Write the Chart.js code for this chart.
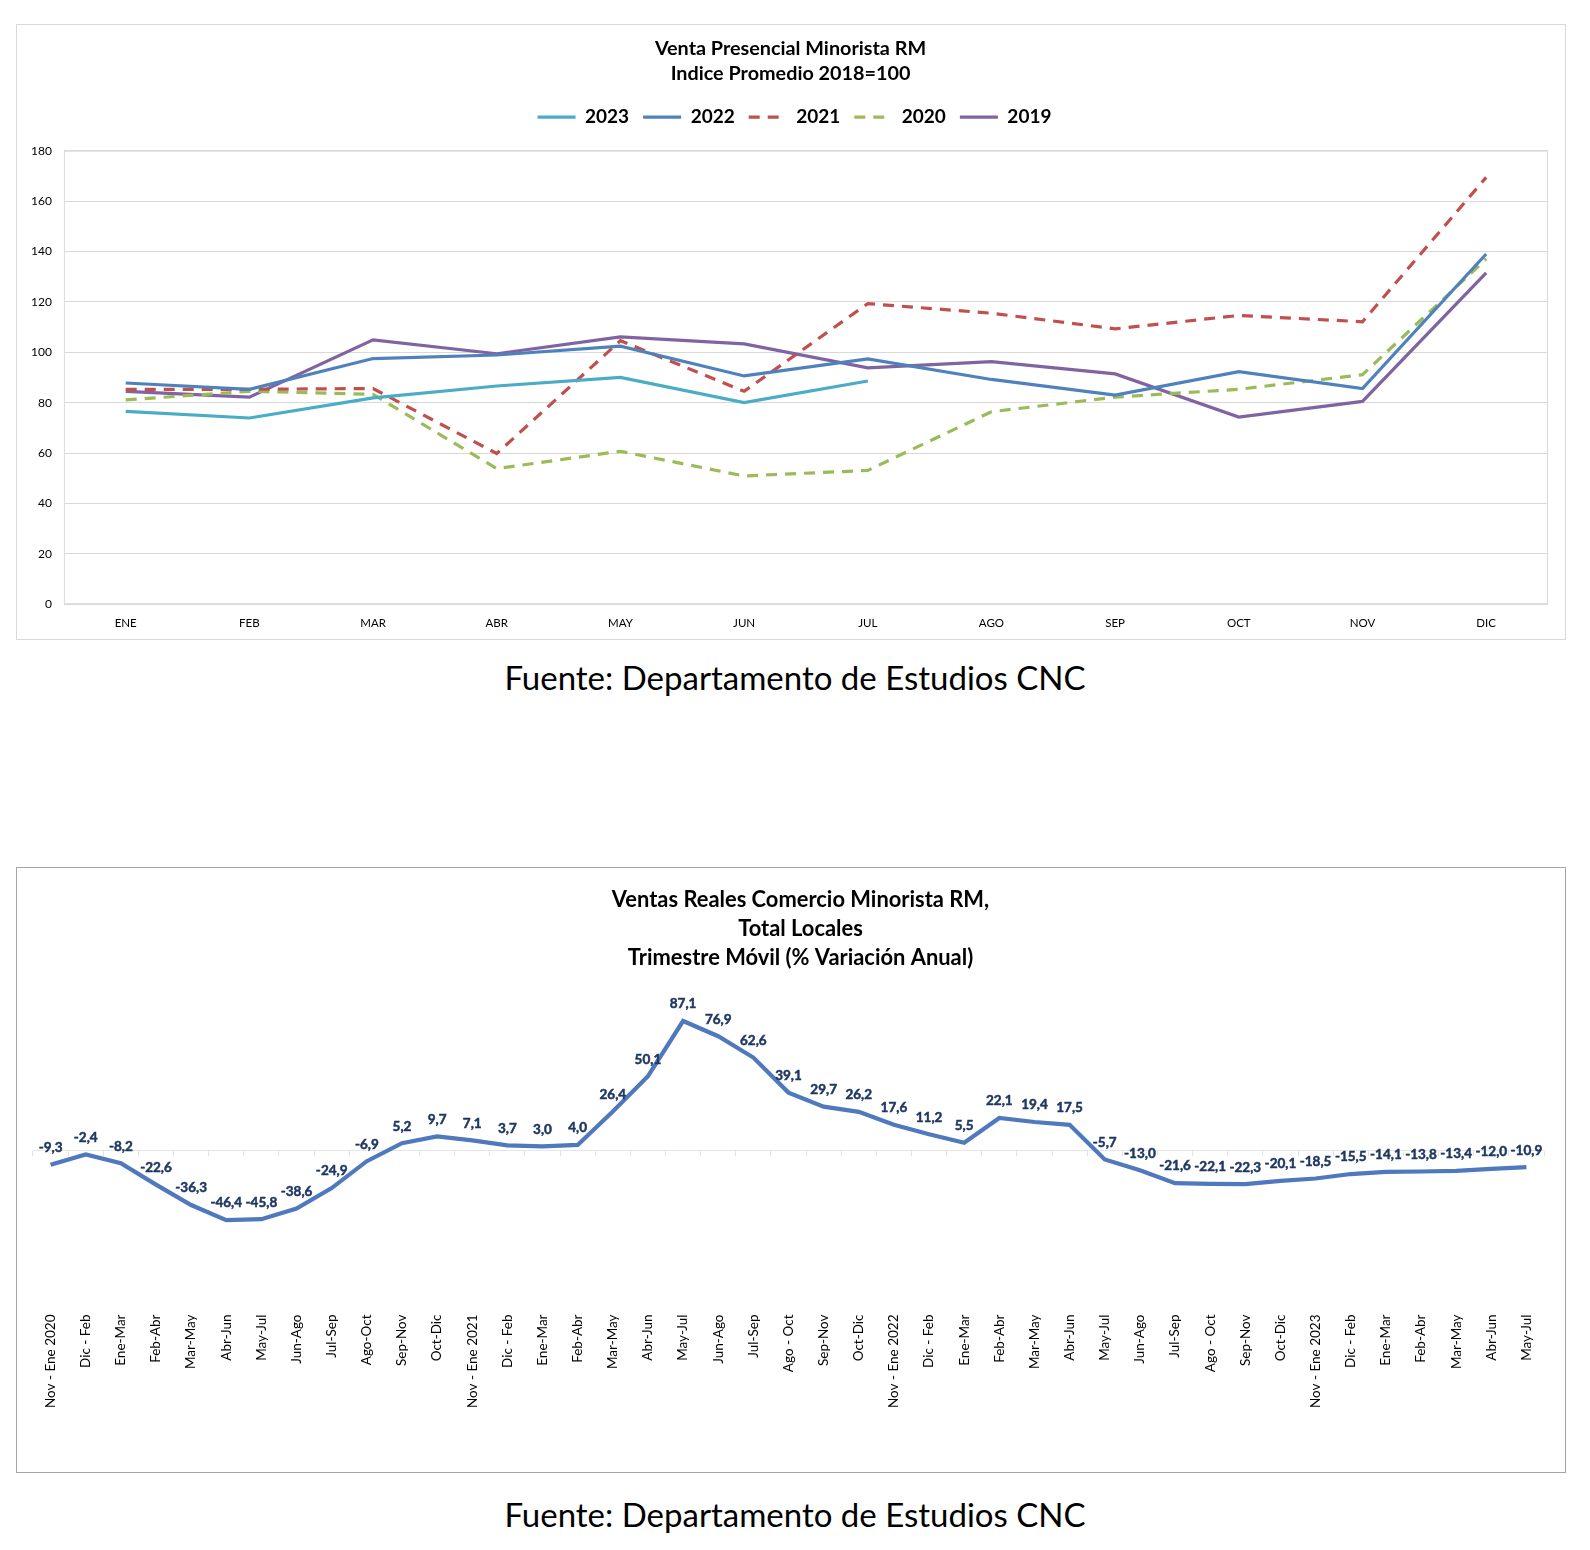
<!DOCTYPE html>
<html lang="es">
<head>
<meta charset="utf-8">
<title>Venta Presencial Minorista RM</title>
<script src="https://cdn.jsdelivr.net/npm/chart.js@4.4.1/dist/chart.umd.min.js"></script>
<style>
  body { margin: 0; background: #fff; width: 1590px; height: 1550px; position: relative; font-family: Lato, sans-serif; }
  .box { position: absolute; box-sizing: border-box; border: 1px solid #d9d9d9; background: #fff; }
  #box-top { left: 16px; top: 24px; width: 1550px; height: 616px; }
  #box-bottom { left: 16px; top: 867px; width: 1550px; height: 606px; border-color: #a6a6a6; }
  .fuente { position: absolute; left: 0; width: 1590px; text-align: center; font-size: 33px; line-height: 40px; color: #000; }
</style>
</head>
<body>
<div class="box" id="box-top"><canvas id="chart-top"></canvas></div>
<div class="fuente" style="top:657px">Fuente: Departamento de Estudios CNC</div>
<div class="box" id="box-bottom"><canvas id="chart-bottom"></canvas></div>
<div class="fuente" style="top:1494px">Fuente: Departamento de Estudios CNC</div>

<script>
// top chart: monthly index
const months = ['ENE', 'FEB', 'MAR', 'ABR', 'MAY', 'JUN', 'JUL', 'AGO', 'SEP', 'OCT', 'NOV', 'DIC'];
const v2023 = [76.5, 73.9, 81.9, 86.6, 90.0, 80.0, 88.6, null, null, null, null, null];
const v2022 = [87.8, 85.3, 97.5, 98.9, 102.4, 90.6, 97.4, 89.2, 83.0, 92.3, 85.6, 139.0];
const v2021 = [85.3, 85.3, 85.6, 59.8, 104.6, 84.5, 119.3, 115.5, 109.3, 114.6, 112.1, 169.4];
const v2020 = [81.1, 84.5, 83.3, 53.8, 60.7, 50.9, 53.1, 76.4, 82.2, 85.3, 91.1, 137.0];
const v2019 = [84.5, 82.2, 104.9, 99.4, 106.1, 103.3, 93.8, 96.3, 91.4, 74.3, 80.5, 131.5];

// bottom chart: moving quarter, % annual variation
const periods = [
  'Nov - Ene 2020', 'Dic - Feb', 'Ene-Mar', 'Feb-Abr', 'Mar-May', 'Abr-Jun', 'May-Jul', 'Jun-Ago', 'Jul-Sep', 'Ago-Oct', 'Sep-Nov', 'Oct-Dic',
  'Nov - Ene 2021', 'Dic - Feb', 'Ene-Mar', 'Feb-Abr', 'Mar-May', 'Abr-Jun', 'May-Jul', 'Jun-Ago', 'Jul-Sep', 'Ago - Oct', 'Sep-Nov', 'Oct-Dic',
  'Nov - Ene 2022', 'Dic - Feb', 'Ene-Mar', 'Feb-Abr', 'Mar-May', 'Abr-Jun', 'May-Jul', 'Jun-Ago', 'Jul-Sep', 'Ago - Oct', 'Sep-Nov', 'Oct-Dic',
  'Nov - Ene 2023', 'Dic - Feb', 'Ene-Mar', 'Feb-Abr', 'Mar-May', 'Abr-Jun', 'May-Jul'
];
const variation = [
  -9.3, -2.4, -8.2, -22.6, -36.3, -46.4, -45.8, -38.6, -24.9, -6.9, 5.2, 9.7,
  7.1, 3.7, 3.0, 4.0, 26.4, 50.1, 87.1, 76.9, 62.6, 39.1, 29.7, 26.2,
  17.6, 11.2, 5.5, 22.1, 19.4, 17.5, -5.7, -13.0, -21.6, -22.1, -22.3, -20.1,
  -18.5, -15.5, -14.1, -13.8, -13.4, -12.0, -10.9
];

// gray frame around the plot area
const plotFrame = {
  id: 'plotFrame',
  beforeDatasetsDraw(chart) {
    const { ctx, chartArea: a } = chart;
    ctx.save();
    ctx.strokeStyle = '#d9d9d9';
    ctx.lineWidth = 1;
    ctx.strokeRect(a.left + 0.5, a.top + 0.5, a.width - 1, a.height - 1);
    ctx.restore();
  }
};

// extra room under the legend
const legendGap = {
  id: 'legendGap',
  beforeInit(chart) {
    const fit = chart.legend.fit;
    chart.legend.fit = function () {
      fit.call(this);
      this.height += 14;
    };
  }
};

// nudge title / legend sideways (Excel doesn't center them exactly)
const headerShift = {
  id: 'headerShift',
  afterLayout(chart, args, opts) {
    const t = chart.titleBlock, l = chart.legend;
    if (t && opts.title) { t.left += opts.title; t.right += opts.title; }
    if (l && opts.legend) { l.left += opts.legend; l.right += opts.legend; }
  }
};

// value labels above each point (decimal comma)
const pointLabels = {
  id: 'pointLabels',
  afterDatasetsDraw(chart) {
    const ctx = chart.ctx;
    const meta = chart.getDatasetMeta(0);
    const data = chart.data.datasets[0].data;
    ctx.save();
    ctx.font = 'bold 13.5px Lato';
    ctx.fillStyle = '#203864';
    ctx.strokeStyle = '#203864';
    ctx.lineWidth = 0.5;
    ctx.textAlign = 'center';
    ctx.textBaseline = 'middle';
    meta.data.forEach((pt, i) => {
      const txt = data[i].toFixed(1).replace('.', ',');
      ctx.fillText(txt, pt.x, pt.y - 17);
      ctx.strokeText(txt, pt.x, pt.y - 17);
    });
    ctx.restore();
  }
};

function initTopChart() {
  const ctx = document.getElementById('chart-top').getContext('2d');
  const dash = [11, 8];
  new Chart(ctx, {
    type: 'line',
    data: {
      labels: months,
      datasets: [
        { label: '2023', data: v2023, borderColor: '#4BACC6', backgroundColor: '#4BACC6' },
        { label: '2022', data: v2022, borderColor: '#4F81BD', backgroundColor: '#4F81BD' },
        { label: '2021', data: v2021, borderColor: '#C0504D', backgroundColor: '#C0504D', borderDash: dash },
        { label: '2020', data: v2020, borderColor: '#9BBB59', backgroundColor: '#9BBB59', borderDash: dash },
        { label: '2019', data: v2019, borderColor: '#8064A2', backgroundColor: '#8064A2' }
      ]
    },
    options: {
      responsive: true,
      maintainAspectRatio: false,
      animation: false,
      elements: { point: { radius: 0 }, line: { borderWidth: 3.2, tension: 0 } },
      layout: { padding: { left: 2, right: 17, bottom: -3 } },
      plugins: {
        title: {
          display: true,
          text: ['Venta Presencial Minorista RM', 'Indice Promedio 2018=100'],
          color: '#000',
          font: { family: 'Lato', size: 19.8, weight: 'bold', lineHeight: 1.28 },
          padding: { top: 11, bottom: 7 }
        },
        legend: {
          labels: {
            usePointStyle: true,
            pointStyle: 'line',
            pointStyleWidth: 38,
            color: '#000',
            font: { family: 'Lato', size: 19, weight: 'bold' },
            padding: 14,
            generateLabels(chart) {
              const items = Chart.defaults.plugins.legend.labels.generateLabels(chart);
              items.forEach(item => {
                const ds = chart.data.datasets[item.datasetIndex];
                item.lineWidth = 3.2;
                item.strokeStyle = ds.borderColor;
                item.lineDash = ds.borderDash || [];
              });
              return items;
            }
          }
        },
        headerShift: { title: 7, legend: 11 },
        tooltip: { enabled: false }
      },
      scales: {
        x: {
          offset: true,
          grid: { display: false, drawTicks: false },
          border: { display: false },
          ticks: { color: '#000', font: { family: 'Lato', size: 11.5 }, padding: 12 }
        },
        y: {
          min: 0,
          max: 180,
          ticks: { stepSize: 20, color: '#000', font: { family: 'Lato', size: 12 }, padding: 12 },
          grid: { color: '#d9d9d9', drawTicks: false },
          border: { display: false }
        }
      }
    },
    plugins: [plotFrame, legendGap, headerShift]
  });
}

function initBottomChart() {
  const ctx = document.getElementById('chart-bottom').getContext('2d');
  new Chart(ctx, {
    type: 'line',
    data: {
      labels: periods,
      datasets: [{ data: variation, borderColor: '#4F78BD', borderWidth: 4.2, pointRadius: 0, tension: 0 }]
    },
    options: {
      responsive: true,
      maintainAspectRatio: false,
      animation: false,
      layout: { padding: { left: 16, right: 21, bottom: 60 } },
      plugins: {
        legend: { display: false },
        tooltip: { enabled: false },
        headerShift: { title: 12 },
        title: {
          display: true,
          text: ['Ventas Reales Comercio Minorista RM,', 'Total Locales', 'Trimestre Móvil (% Variación Anual)'],
          color: '#000',
          font: { family: 'Lato', size: 21.9, weight: 'bold', lineHeight: 1.33 },
          padding: { top: 17, bottom: 10 }
        }
      },
      scales: {
        x: {
          offset: true,
          grid: { display: false, drawTicks: false },
          border: { display: false },
          ticks: { autoSkip: false, minRotation: 90, maxRotation: 90, color: '#000', font: { family: 'Lato', size: 13.5 }, padding: 4 }
        },
        // category axis sitting on the zero line: only its small tick marks show
        xZero: {
          type: 'category',
          axis: 'x',
          position: { y: 0 },
          offset: true,
          grid: { display: true, drawOnChartArea: false, drawTicks: true, tickLength: 5, offset: true, color: '#e3e3e3' },
          border: { display: false },
          ticks: { display: false }
        },
        y: {
          min: -107,
          max: 113,
          afterBuildTicks: axis => { axis.ticks = [{ value: 0 }]; },
          ticks: { display: false },
          grid: { color: '#e6e6e6', drawTicks: false },
          border: { display: false }
        }
      }
    },
    plugins: [pointLabels, headerShift]
  });
}

initTopChart();
initBottomChart();
</script>
</body>
</html>
